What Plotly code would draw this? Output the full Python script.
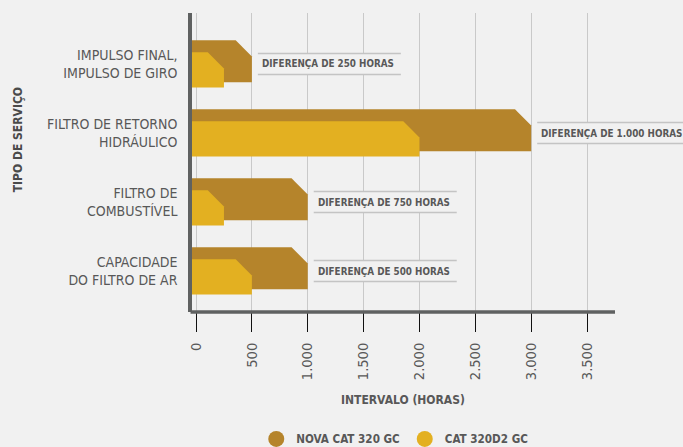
import plotly.graph_objects as go

# ---------------- data ----------------
categories = [
    "IMPULSO FINAL,<br>IMPULSO DE GIRO",
    "FILTRO DE RETORNO<br>HIDRÁULICO",
    "FILTRO DE<br>COMBUSTÍVEL",
    "CAPACIDADE<br>DO FILTRO DE AR",
]
series_names = ["NOVA CAT 320 GC", "CAT 320D2 GC"]
nova_cat_320_gc = [500, 3000, 1000, 1000]
cat_320d2_gc = [250, 2000, 250, 500]
x_tickvals = [0, 500, 1000, 1500, 2000, 2500, 3000, 3500]
x_ticktext = ["0", "500", "1.000", "1.500", "2.000", "2.500", "3.000", "3.500"]

# ---------------- style ----------------
BG = "#f1f1f1"
BROWN = "#b5842b"
YELLOW = "#e3b021"
TEXT = "#585858"
AXIS = "#5f6161"
GRID = "#c9c9c9"
FONT = "DejaVu Sans Condensed, Liberation Sans, sans-serif"

X_RANGE = [-36, 4359]
Y_RANGE = [3.594, -0.739]
CH_X = 145      # chamfer width (x units)
CH_Y = 0.235    # chamfer height (y units)
BROWN_BAND = (-0.345, 0.265)
YELLOW_BAND = (-0.17, 0.34)


def bar_poly(i, v, band):
    top, bottom = i + band[0], i + band[1]
    x0 = X_RANGE[0]
    xs = [x0, v - CH_X, v, v, x0, x0]
    ys = [top, top, top + CH_Y, bottom, bottom, top]
    return xs, ys


fig = go.Figure()

for vals, color, band in [(nova_cat_320_gc, BROWN, BROWN_BAND), (cat_320d2_gc, YELLOW, YELLOW_BAND)]:
    for i, v in enumerate(vals):
        xs, ys = bar_poly(i, v, band)
        fig.add_trace(go.Scatter(
            x=xs, y=ys, mode="lines", fill="toself", fillcolor=color,
            line=dict(width=0, color=color), showlegend=False, hoverinfo="skip",
        ))

# legend entries
for name, color in zip(series_names, [BROWN, YELLOW]):
    fig.add_trace(go.Scatter(
        x=[None], y=[None], mode="markers", name=name,
        marker=dict(symbol="circle", size=20, color=color),
    ))

# difference labels
shapes = []
annotations = []
for i, (a, b) in enumerate(zip(nova_cat_320_gc, cat_320d2_gc)):
    d = a - b
    label = "DIFERENÇA DE " + f"{d:,}".replace(",", ".") + " HORAS"
    w = 143 if d < 1000 else 160
    common = dict(xref="x", yref="y", xsizemode="pixel", ysizemode="pixel",
                  xanchor=max(a, b), yanchor=i)
    shapes.append(dict(type="rect", x0=6, x1=6 + w, y0=-10, y1=10,
                       fillcolor=BG, line=dict(width=0), layer="between", **common))
    for yy in (-10.5, 10.5):
        shapes.append(dict(type="line", x0=6, x1=6 + w, y0=yy, y1=yy,
                           line=dict(color="#c4c4c4", width=1.5), layer="between", **common))
    annotations.append(dict(
        x=max(a, b), y=i, xref="x", yref="y", text=label, showarrow=False,
        xanchor="left", yanchor="middle", xshift=8,
        font=dict(family=FONT, size=9.8, color=TEXT, weight="bold"),
    ))

# x axis line (ends before the right edge, like the reference)
shapes.append(dict(type="line", xref="paper", yref="paper", x0=-0.003, x1=0.8615, y0=0, y1=0,
                   line=dict(color=AXIS, width=3.5), layer="above"))

# axis titles
annotations.append(dict(
    text="INTERVALO (HORAS)", xref="paper", yref="paper", x=0.43, y=-0.294,
    showarrow=False, xanchor="center", yanchor="middle",
    font=dict(family=FONT, size=12, color=TEXT, weight="bold"),
))
annotations.append(dict(
    text="TIPO DE SERVIÇO", xref="paper", yref="paper", x=-0.354, y=0.575,
    showarrow=False, xanchor="center", yanchor="middle", textangle=-90,
    font=dict(family=FONT, size=12, color="#4a4a4a", weight="bold"),
))

fig.update_layout(
    width=683, height=447,
    margin=dict(l=192, r=0, t=13, b=135, autoexpand=False),
    paper_bgcolor=BG, plot_bgcolor=BG,
    font=dict(family=FONT, color=TEXT),
    shapes=shapes, annotations=annotations,
    legend=dict(
        orientation="h", xref="container", yref="container",
        x=0.578, y=0.018, xanchor="center", yanchor="middle",
        font=dict(family=FONT, size=11.6, color=TEXT, weight="bold"),
        bgcolor="rgba(0,0,0,0)",
    ),
    xaxis=dict(
        range=X_RANGE, tickvals=x_tickvals, ticktext=x_ticktext,
        tickangle=-90, ticks="outside", ticklen=19, tickcolor="#111111", tickwidth=1,
        ticklabelstandoff=5, automargin=False,
        tickfont=dict(family=FONT, size=14.5, color=TEXT),
        showgrid=True, gridcolor=GRID, gridwidth=1,
        zeroline=False, showline=False, fixedrange=True,
    ),
    yaxis=dict(
        range=Y_RANGE, tickvals=list(range(len(categories))), ticktext=categories,
        ticks="", ticklabelstandoff=8, automargin=False,
        tickfont=dict(family=FONT, size=14, color=TEXT),
        showgrid=False, zeroline=False,
        showline=True, linecolor=AXIS, linewidth=3.5, fixedrange=True,
    ),
)

fig.write_html(
    "out.html",
    config={"displayModeBar": False},
    post_script="document.body.style.margin='0';document.body.style.overflow='hidden';",
)
